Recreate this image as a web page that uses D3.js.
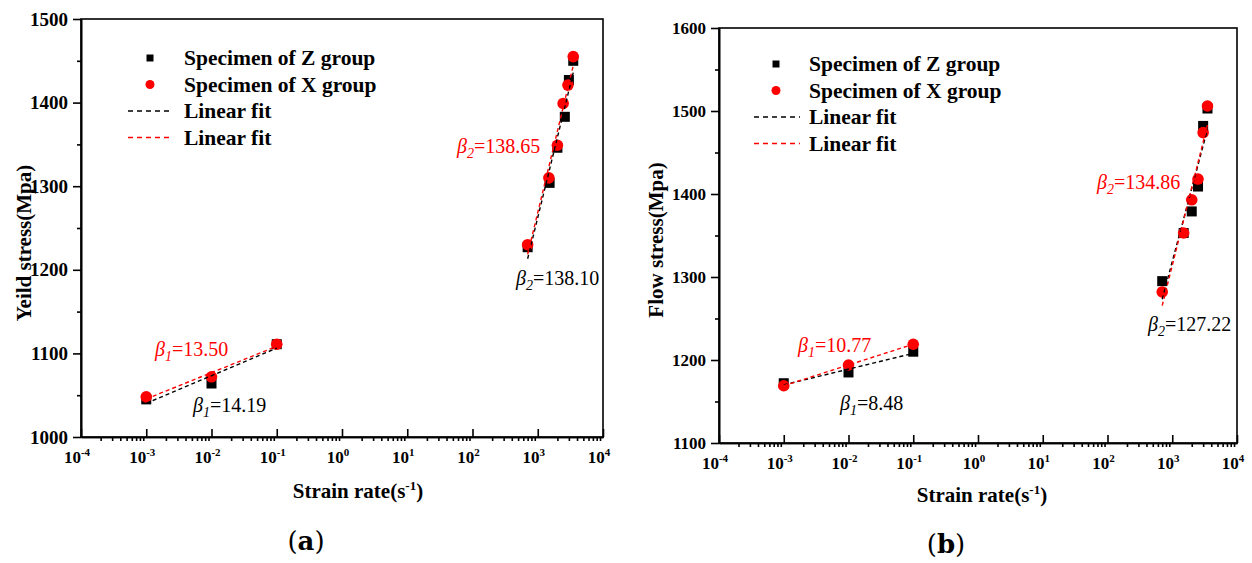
<!DOCTYPE html>
<html>
<head>
<meta charset="utf-8">
<script src="https://cdn.jsdelivr.net/npm/d3@7"></script>
<style>
	body { margin: 0; background: #fff; }
	svg { display: block; font-family: "Liberation Serif", "Times New Roman", serif; }
</style>
</head>
<body>
<div id="chart"></div>
<script>
(function() {
	"use strict";

	// strain rates, 1/s
	var quasiRates = [0.001, 0.01, 0.1];
	var yieldDynRatesZ = [700, 1520, 2000, 2600, 3000, 3500];
	var yieldDynRatesX = [700, 1480, 2000, 2450, 2900, 3500];
	var flowDynRatesZ = [700, 1500, 2000, 2500, 3000, 3500];
	var flowDynRatesX = [700, 1500, 2000, 2500, 3000, 3500];

	// stresses, MPa
	var yieldQuasiZ = [1045, 1064, 1111];
	var yieldQuasiX = [1048, 1072, 1111];
	var yieldDynZ = [1227, 1304, 1346, 1383, 1427, 1450];
	var yieldDynX = [1230, 1310, 1349, 1399, 1421, 1455];
	var flowQuasiZ = [1172, 1185, 1210];
	var flowQuasiX = [1169, 1194, 1219];
	var flowDynZ = [1295, 1353, 1379, 1409, 1482, 1503];
	var flowDynX = [1282, 1353, 1393, 1418, 1474, 1506];

	// slope labels: [quasi X, quasi Z, dynamic X, dynamic Z]
	var yieldBetas = ['13.50', '14.19', '138.65', '138.10'];
	var flowBetas = ['10.77', '8.48', '134.86', '127.22'];

	var xTickExponents = [-4, -3, -2, -1, 0, 1, 2, 3, 4];
	var yieldTicks = [1000, 1100, 1200, 1300, 1400, 1500];
	var flowTicks = [1100, 1200, 1300, 1400, 1500, 1600];
	var legendLabels = ['Specimen of Z group', 'Specimen of X group', 'Linear fit', 'Linear fit'];

	var RED = '#ff0000';
	var BLACK = '#000000';
	var SERIF = '"Liberation Serif", "Times New Roman", serif';

	var svg = d3.select('#chart')
		.append('svg')
		.attr('width', 1252)
		.attr('height', 563);

	render(svg, {
		left: 81, right: 603, top: 19, bottom: 437,
		yDomain: [1000, 1500], yTicks: yieldTicks, yTickFont: 19,
		yTitle: 'Yeild stress(Mpa)', yTitleX: 31, yTitleY: 243,
		xTitleX: 358, xTitleY: 498,
		caption: 'a', captionX: 306, captionY: 550,
		quasiZ: yieldQuasiZ, quasiX: yieldQuasiX,
		dynRatesZ: yieldDynRatesZ, dynRatesX: yieldDynRatesX,
		dynZ: yieldDynZ, dynX: yieldDynX,
		betas: yieldBetas,
		betaPos: [[155, 356], [193, 412], [457, 153], [516, 285]],
		legend: { markerX: 150, lineX1: 128, lineX2: 173, textX: 184, y: 58 }
	});

	render(svg, {
		left: 719, right: 1237, top: 28, bottom: 443,
		yDomain: [1100, 1600], yTicks: flowTicks, yTickFont: 17,
		yTitle: 'Flow stress(Mpa)', yTitleX: 663, yTitleY: 240,
		xTitleX: 982, xTitleY: 502,
		caption: 'b', captionX: 946, captionY: 553,
		quasiZ: flowQuasiZ, quasiX: flowQuasiX,
		dynRatesZ: flowDynRatesZ, dynRatesX: flowDynRatesX,
		dynZ: flowDynZ, dynX: flowDynX,
		betas: flowBetas,
		betaPos: [[798, 352], [840, 410], [1097, 189], [1148, 331]],
		legend: { markerX: 776, lineX1: 754, lineX2: 800, textX: 809, y: 64 }
	});

	function render(svg, cfg) {
		var x = d3.scaleLog().domain([1e-4, 1e4]).range([cfg.left, cfg.right]);
		var y = d3.scaleLinear().domain(cfg.yDomain).range([cfg.bottom, cfg.top]);
		var g = svg.append('g');

		drawAxes(g, x, y, cfg);

		var seriesZ = [zip(quasiRates, cfg.quasiZ), zip(cfg.dynRatesZ, cfg.dynZ)];
		var seriesX = [zip(quasiRates, cfg.quasiX), zip(cfg.dynRatesX, cfg.dynX)];

		seriesZ.forEach(function (pts) { drawSquares(g, x, y, pts); });
		seriesX.forEach(function (pts) { drawCircles(g, x, y, pts); });
		seriesZ.forEach(function (pts) { drawFit(g, x, y, pts, BLACK); });
		seriesX.forEach(function (pts) { drawFit(g, x, y, pts, RED); });

		drawBetas(g, cfg);
		drawLegend(g, cfg.legend);
	}

	function zip(rates, values) {
		return rates.map(function (r, i) { return { rate: r, value: values[i] }; });
	}

	function drawAxes(g, x, y, cfg) {
		var majors = xTickExponents.map(function (e) { return Math.pow(10, e); });
		var minors = [];
		xTickExponents.slice(0, -1).forEach(function (e) {
			for (var k = 2; k <= 9; k++) { minors.push(k * Math.pow(10, e)); }
		});
		var yMinors = d3.range(cfg.yDomain[0] + 50, cfg.yDomain[1], 100);

		// frame
		g.append('rect')
			.attr('x', cfg.left).attr('y', cfg.top)
			.attr('width', cfg.right - cfg.left).attr('height', cfg.bottom - cfg.top)
			.attr('fill', 'none').attr('stroke', BLACK).attr('stroke-width', 1.6);

		var xMajor = g.append('g')
			.attr('transform', 'translate(0,' + cfg.bottom + ')')
			.call(d3.axisBottom(x).tickValues(majors).tickSizeInner(-8).tickSizeOuter(0).tickFormat(''));
		var xMinor = g.append('g')
			.attr('transform', 'translate(0,' + cfg.bottom + ')')
			.call(d3.axisBottom(x).tickValues(minors).tickSizeInner(4).tickSizeOuter(0).tickFormat(''));
		var yMajor = g.append('g')
			.attr('transform', 'translate(' + cfg.left + ',0)')
			.call(d3.axisLeft(y).tickValues(cfg.yTicks).tickSizeInner(8).tickSizeOuter(0).tickPadding(5)
				.tickFormat(d3.format('d')));
		var yMinor = g.append('g')
			.attr('transform', 'translate(' + cfg.left + ',0)')
			.call(d3.axisLeft(y).tickValues(yMinors).tickSizeInner(4).tickSizeOuter(0).tickFormat(''));

		[xMajor, xMinor, yMajor, yMinor].forEach(function (a) {
			a.attr('font-family', SERIF);
			a.select('.domain').attr('stroke', BLACK).attr('stroke-width', 1.6);
			a.selectAll('.tick line').attr('stroke', BLACK).attr('stroke-width', 1.6);
		});

		yMajor.selectAll('.tick text')
			.attr('fill', BLACK)
			.style('font-family', SERIF)
			.style('font-weight', 'bold')
			.style('font-size', cfg.yTickFont + 'px');

		// x tick labels 10^n
		var labels = g.append('g').selectAll('text')
			.data(xTickExponents)
			.enter()
			.append('text')
			.attr('x', function (e) { return x(Math.pow(10, e)) - 4; })
			.attr('y', cfg.bottom + 26)
			.attr('text-anchor', 'middle')
			.style('font-weight', 'bold')
			.style('font-size', '17px');
		labels.append('tspan').text('10');
		labels.append('tspan')
			.attr('dy', -7)
			.style('font-size', '11px')
			.text(function (e) { return String(e); });

		var xt = g.append('text')
			.attr('x', cfg.xTitleX).attr('y', cfg.xTitleY)
			.attr('text-anchor', 'middle')
			.style('font-weight', 'bold')
			.style('font-size', '21px');
		xt.append('tspan').text('Strain rate(s');
		xt.append('tspan').attr('dy', -8).style('font-size', '13px').text('-1');
		xt.append('tspan').attr('dy', 8).text(')');

		g.append('text')
			.attr('transform', 'translate(' + cfg.yTitleX + ',' + cfg.yTitleY + ') rotate(-90)')
			.attr('text-anchor', 'middle')
			.style('font-weight', 'bold')
			.style('font-size', '21px')
			.text(cfg.yTitle);

		var cap = g.append('text')
			.attr('x', cfg.captionX).attr('y', cfg.captionY)
			.attr('text-anchor', 'middle')
			.style('font-family', '"DejaVu Serif", serif')
			.style('font-size', '26px');
		cap.append('tspan').text('(');
		cap.append('tspan').style('font-weight', 'bold').text(cfg.caption);
		cap.append('tspan').text(')');
	}

	function drawSquares(g, x, y, pts) {
		g.append('g').selectAll('rect')
			.data(pts)
			.enter()
			.append('rect')
			.attr('x', function (d) { return x(d.rate) - 5; })
			.attr('y', function (d) { return y(d.value) - 5; })
			.attr('width', 10)
			.attr('height', 10)
			.attr('fill', BLACK);
	}

	function drawCircles(g, x, y, pts) {
		g.append('g').selectAll('circle')
			.data(pts)
			.enter()
			.append('circle')
			.attr('cx', function (d) { return x(d.rate); })
			.attr('cy', function (d) { return y(d.value); })
			.attr('r', 5.8)
			.attr('fill', RED);
	}

	// least squares on log10(rate), drawn over the data range
	function drawFit(g, x, y, pts, color) {
		var lx = pts.map(function (d) { return Math.log10(d.rate); });
		var mx = d3.mean(lx);
		var my = d3.mean(pts, function (d) { return d.value; });
		var sxy = d3.sum(pts, function (d, i) { return (lx[i] - mx) * (d.value - my); });
		var sxx = d3.sum(lx, function (v) { return (v - mx) * (v - mx); });
		var slope = sxy / sxx;
		var ends = d3.extent(pts, function (d) { return d.rate; }).map(function (r) {
			return { rate: r, value: my + slope * (Math.log10(r) - mx) };
		});
		var line = d3.line()
			.x(function (d) { return x(d.rate); })
			.y(function (d) { return y(d.value); });
		g.append('path')
			.datum(ends)
			.attr('d', line)
			.attr('fill', 'none')
			.attr('stroke', color)
			.attr('stroke-width', 1.4)
			.attr('stroke-dasharray', '4,3');
	}

	function drawBetas(g, cfg) {
		var colors = [RED, BLACK, RED, BLACK];
		var subs = ['1', '1', '2', '2'];
		cfg.betas.forEach(function (val, i) {
			var t = g.append('text')
				.attr('x', cfg.betaPos[i][0])
				.attr('y', cfg.betaPos[i][1])
				.attr('fill', colors[i])
				.style('font-size', '20px');
			t.append('tspan').style('font-style', 'italic').text('β');
			t.append('tspan').style('font-style', 'italic').style('font-size', '14px').attr('dy', 5).text(subs[i]);
			t.append('tspan').attr('dy', -5).text('=' + val);
		});
	}

	function drawLegend(g, lg) {
		var rowH = 26.5;
		var lgG = g.append('g');
		lgG.append('rect')
			.attr('x', lg.markerX - 3.5).attr('y', lg.y - 3.5)
			.attr('width', 7).attr('height', 7)
			.attr('fill', BLACK);
		lgG.append('circle')
			.attr('cx', lg.markerX).attr('cy', lg.y + rowH)
			.attr('r', 4.5)
			.attr('fill', RED);
		[BLACK, RED].forEach(function (c, i) {
			lgG.append('line')
				.attr('x1', lg.lineX1).attr('x2', lg.lineX2)
				.attr('y1', lg.y + rowH * (2 + i)).attr('y2', lg.y + rowH * (2 + i))
				.attr('stroke', c)
				.attr('stroke-width', 1.3)
				.attr('stroke-dasharray', '5,4');
		});
		lgG.selectAll('text')
			.data(legendLabels)
			.enter()
			.append('text')
			.attr('x', lg.textX)
			.attr('y', function (d, i) { return lg.y + rowH * i + 7; })
			.style('font-weight', 'bold')
			.style('font-size', '21.5px')
			.text(function (d) { return d; });
	}
}());
</script>
</body>
</html>
